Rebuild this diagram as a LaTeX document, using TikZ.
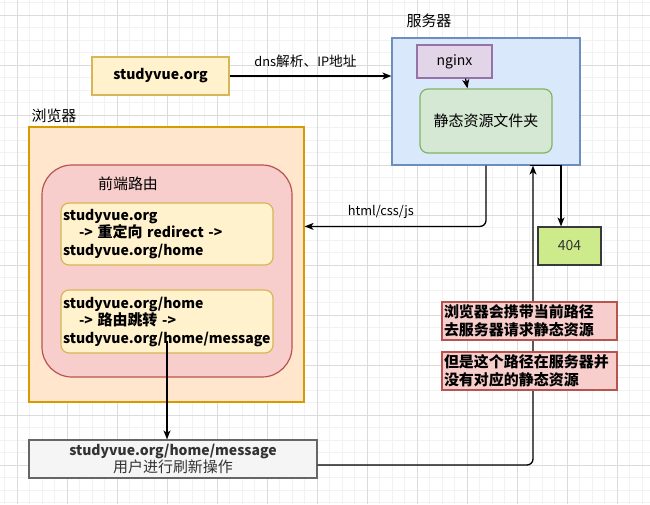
\documentclass[tikz,border=0pt]{standalone}
\usepackage{fontspec}
\setmainfont{Noto Sans CJK SC}
\newfontfamily\cjk{Noto Sans CJK SC}[Scale=1.07]
\usetikzlibrary{arrows.meta,positioning}

\definecolor{yelfill}{HTML}{FFF2CC}\definecolor{yeldraw}{HTML}{D6B656}
\definecolor{bluefill}{HTML}{DAE8FC}\definecolor{bluedraw}{HTML}{6C8EBF}
\definecolor{purfill}{HTML}{E1D5E7}\definecolor{purdraw}{HTML}{9673A6}
\definecolor{grnfill}{HTML}{D5E8D4}\definecolor{grndraw}{HTML}{82B366}
\definecolor{orgfill}{HTML}{FFE6CC}\definecolor{orgdraw}{HTML}{D79B00}
\definecolor{redfill}{HTML}{F8CECC}\definecolor{reddraw}{HTML}{B85450}
\definecolor{grayfill}{HTML}{F5F5F5}\definecolor{graydraw}{HTML}{666666}
\definecolor{graytext}{HTML}{333333}
\definecolor{limefill}{HTML}{CDEB8B}\definecolor{limedraw}{HTML}{36393D}

\begin{document}
\begin{tikzpicture}[x=1pt,y=-1pt,
    every node/.style={font=\fontsize{14}{17.5}\selectfont},
    box/.style={draw,line width=1.2pt,inner sep=2pt},
    yelbox/.style={box,fill=yelfill,draw=yeldraw},
    routebox/.style={yelbox,rounded corners=8pt,minimum width=212pt,text width=208pt,align=left,
                     font=\fontsize{14}{17.5}\selectfont\bfseries},
    notebox/.style={box,fill=redfill,draw=reddraw,minimum width=175pt,minimum height=38pt,
                    text width=171pt,align=left,font=\fontsize{14}{18}\selectfont\bfseries},
    edgelbl/.style={font=\fontsize{12.8}{15}\selectfont},
    link/.style={draw=black,line width=1.3pt,-{Stealth[length=9pt,width=7pt,inset=2.5pt]}}]

% grid
\useasboundingbox (0,0) rectangle (650,504);
\fill[white] (0,0) rectangle (650,504);
\foreach \i in {0,...,52} {
  \draw[black!5,line width=0.8pt] (4.5+12.5*\i,0) -- (4.5+12.5*\i,504);
}
\foreach \i in {0,...,40} {
  \draw[black!5,line width=0.8pt] (0,2.5+12.5*\i) -- (650,2.5+12.5*\i);
}
\foreach \i in {0,...,12} {
  \draw[black!14,line width=0.8pt] (17+50*\i,0) -- (17+50*\i,504);
}
\foreach \i in {0,...,10} {
  \draw[black!14,line width=0.8pt] (0,15+50*\i) -- (650,15+50*\i);
}

% browser side
\node[box,fill=orgfill,draw=orgdraw,minimum width=275pt,minimum height=275pt] (browser) at (166.5,264.5) {};
\node (browserlbl) at (54,116) {\cjk 浏览器};
\node[box,fill=redfill,draw=reddraw,rounded corners=30pt,minimum width=250pt,minimum height=212pt] (router) at (167,271) {};
\node (routerlbl) at (128,184) {\cjk 前端路由};
\node[routebox,minimum height=62pt] (box1) at (167,234)
  {studyvue.org\\\hspace*{16pt}-> {\cjk 重定向} redirect ->\\studyvue.org/home};
\node[routebox,minimum height=63pt] (box2) at (167,321.5)
  {studyvue.org/home\\\hspace*{16pt}-> {\cjk 路由跳转} ->\\studyvue.org/home/message};

% server side
\node[box,fill=bluefill,draw=bluedraw,minimum width=188pt,minimum height=127pt] (server) at (486,101.5) {};
\node (serverlbl) at (429,21) {\cjk 服务器};
\node[box,fill=purfill,draw=purdraw,minimum width=75pt,minimum height=33pt] (nginx) at (454.5,61.5) {nginx};
\node[box,fill=grnfill,draw=grndraw,rounded corners=8pt,minimum width=132pt,minimum height=64pt] (static) at (486,121) {\cjk 静态资源文件夹};
\node[yelbox,minimum width=137pt,minimum height=38pt,font=\fontsize{14}{17.5}\selectfont\bfseries] (url) at (160.5,76) {studyvue.org};
\node[box,fill=limefill,draw=limedraw,minimum width=63pt,minimum height=38pt,text=graytext] (nf) at (569.5,246) {404};
\node[box,fill=grayfill,draw=graydraw,minimum width=288pt,minimum height=38pt,align=center,text=graytext] (refresh) at (173,459)
  {\textbf{studyvue.org/home/message}\\{\cjk 用户进行刷新操作}};

% connectors
\draw[link] (url.east) -- (url.east -| server.west) node[edgelbl,midway,above=4pt,xshift=-5pt] (dnslbl) {dns{\cjk 解析、}IP{\cjk 地址}};
\draw[link] ([xshift=11pt]nginx.south) -- ([xshift=13pt]nginx.south |- static.north);
\draw[link,rounded corners=6pt] (server.south) |- (nf.north -| browser.east) node[edgelbl,pos=0.79,above=4pt] (htmllbl) {html/css/js};
\draw[link] ([xshift=44pt]server.south) -- ([xshift=75pt]server.south) -- ([xshift=75pt]server.south |- nf.north);
\draw[link] ([yshift=13pt]box2.south) -- (refresh.north -| box2.south);
\draw[link,rounded corners=6pt] ([yshift=-6pt]refresh.east) -| ([xshift=47pt]server.south);

% notes
\node[notebox] (note1) at (529.5,321) {\cjk 浏览器会携带当前路径\\去服务器请求静态资源};
\node[notebox] (note2) at (529.5,371) {\cjk 但是这个路径在服务器并\\没有对应的静态资源};

\end{tikzpicture}
\end{document}
